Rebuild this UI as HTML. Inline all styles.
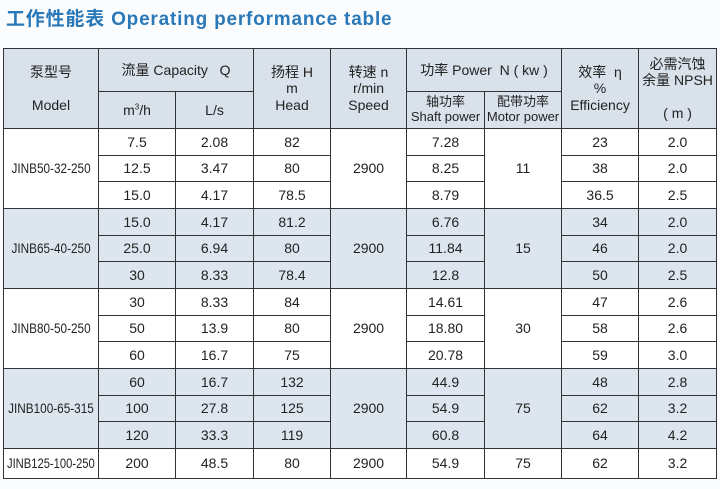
<!DOCTYPE html>
<html><head><meta charset="utf-8"><style>
body{margin:0;width:720px;height:489px;background:#fbfcfd;overflow:hidden;font-family:"Liberation Sans","Noto Sans CJK SC",sans-serif;}
.t{position:absolute;left:6px;top:4px;font-size:19px;font-weight:bold;color:#2a78b8;letter-spacing:0.8px;white-space:nowrap}
table{position:absolute;left:3px;top:48px;border-collapse:collapse;table-layout:fixed;width:713px;font-size:14px;color:#222;}
td{border:1.3px solid #333;text-align:center;padding:0;line-height:1.15;overflow:hidden;white-space:nowrap}
.h td{background:#d9e1ea}
.b td{background:#dde6ef}
.w td{background:#fff}
.s{font-size:13px}
.m{display:inline-block;transform:scaleX(0.84);transform-origin:center;margin:0 -10px}
</style></head><body>
<div class="t">工作性能表 Operating performance table</div>
<table>
<colgroup><col style="width:95px"><col style="width:77px"><col style="width:78px"><col style="width:77px"><col style="width:76px"><col style="width:78px"><col style="width:77px"><col style="width:77px"><col style="width:78px"></colgroup>
<tr class="h" style="height:43px"><td rowspan="2">泵型号<br><br>Model</td><td colspan="2">流量 Capacity&nbsp;&nbsp;&nbsp;Q</td><td rowspan="2">扬程 H<br>m<br>Head</td><td rowspan="2">转速 n<br>r/min<br>Speed</td><td colspan="2">功率 Power&nbsp;&nbsp;N ( kw )</td><td rowspan="2">效率&nbsp;&nbsp;η<br>%<br>Efficiency</td><td rowspan="2">必需汽蚀<br>余量 NPSH<br><br>( m )</td></tr>
<tr class="h" style="height:37px"><td>m<sup style="font-size:8px">3</sup>/h</td><td>L/s</td><td class="s">轴功率<br>Shaft power</td><td class="s">配带功率<br>Motor power</td></tr>
<tr class="w" style="height:27px"><td rowspan="3"><span class="m">JINB50-32-250</span></td><td>7.5</td><td>2.08</td><td>82</td><td rowspan="3">2900</td><td>7.28</td><td rowspan="3">11</td><td>23</td><td>2.0</td></tr>
<tr class="w" style="height:26px"><td>12.5</td><td>3.47</td><td>80</td><td>8.25</td><td>38</td><td>2.0</td></tr>
<tr class="w" style="height:27px"><td>15.0</td><td>4.17</td><td>78.5</td><td>8.79</td><td>36.5</td><td>2.5</td></tr>
<tr class="b" style="height:27px"><td rowspan="3"><span class="m">JINB65-40-250</span></td><td>15.0</td><td>4.17</td><td>81.2</td><td rowspan="3">2900</td><td>6.76</td><td rowspan="3">15</td><td>34</td><td>2.0</td></tr>
<tr class="b" style="height:26px"><td>25.0</td><td>6.94</td><td>80</td><td>11.84</td><td>46</td><td>2.0</td></tr>
<tr class="b" style="height:27px"><td>30</td><td>8.33</td><td>78.4</td><td>12.8</td><td>50</td><td>2.5</td></tr>
<tr class="w" style="height:27px"><td rowspan="3"><span class="m">JINB80-50-250</span></td><td>30</td><td>8.33</td><td>84</td><td rowspan="3">2900</td><td>14.61</td><td rowspan="3">30</td><td>47</td><td>2.6</td></tr>
<tr class="w" style="height:26px"><td>50</td><td>13.9</td><td>80</td><td>18.80</td><td>58</td><td>2.6</td></tr>
<tr class="w" style="height:27px"><td>60</td><td>16.7</td><td>75</td><td>20.78</td><td>59</td><td>3.0</td></tr>
<tr class="b" style="height:27px"><td rowspan="3"><span class="m">JINB100-65-315</span></td><td>60</td><td>16.7</td><td>132</td><td rowspan="3">2900</td><td>44.9</td><td rowspan="3">75</td><td>48</td><td>2.8</td></tr>
<tr class="b" style="height:26px"><td>100</td><td>27.8</td><td>125</td><td>54.9</td><td>62</td><td>3.2</td></tr>
<tr class="b" style="height:27px"><td>120</td><td>33.3</td><td>119</td><td>60.8</td><td>64</td><td>4.2</td></tr>
<tr class="w" style="height:30px"><td><span class="m" style="transform:scaleX(0.8);margin:0 -12px">JINB125-100-250</span></td><td>200</td><td>48.5</td><td>80</td><td>2900</td><td>54.9</td><td>75</td><td>62</td><td>3.2</td></tr>
</table>
</body></html>
